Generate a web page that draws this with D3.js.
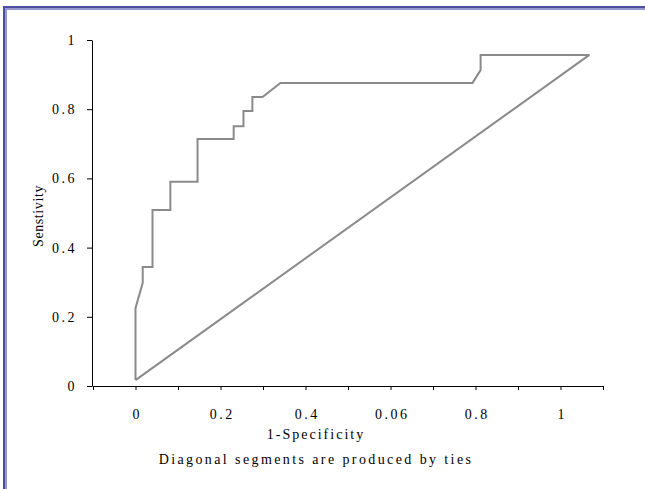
<!DOCTYPE html>
<html>
<head>
<meta charset="utf-8">
<script src="https://cdn.jsdelivr.net/npm/d3@7"></script>
<style>
  body { margin: 0; background: #fff; }
  svg text { font-family: "Liberation Serif", "Times New Roman", serif; fill: #000; }
</style>
</head>
<body>
<div id="chart"></div>
<script>
// ROC curve points (1-specificity, sensitivity)
const rocX = [0, 0, 0.017, 0.017, 0.04, 0.04, 0.082, 0.082, 0.146, 0.146, 0.231, 0.231, 0.254, 0.254, 0.275, 0.275, 0.299, 0.341, 0.793, 0.812, 0.812, 1.068];
const rocY = [0.017, 0.225, 0.298, 0.344, 0.344, 0.509, 0.509, 0.59, 0.59, 0.714, 0.714, 0.751, 0.751, 0.795, 0.795, 0.835, 0.835, 0.876, 0.876, 0.913, 0.957, 0.957];

// reference (chance) line
const chanceX = [0, 1.068];
const chanceY = [0.017, 0.957];

// axis ticks and their labels (the "0.06" is as printed on the original)
const xTickValues = d3.range(13).map(i => -0.1 + i * 0.1);
const xTickLabels = {0: "0", 2: "0.2", 4: "0.4", 6: "0.06", 8: "0.8", 10: "1"};
const yTickValues = [0, 0.2, 0.4, 0.6, 0.8, 1];
const yTickLabels = ["0", "0.2", "0.4", "0.6", "0.8", "1"];

const width = 645, height = 489;

const svg = d3.select("#chart").append("svg")
    .attr("width", width)
    .attr("height", height);

// frame: top and left borders only
svg.append("rect").attr("x", 3).attr("y", 6).attr("width", width - 3).attr("height", 2).attr("fill", "#4e4ea0");
svg.append("rect").attr("x", 3).attr("y", 8).attr("width", width - 3).attr("height", 2).attr("fill", "#9898d0");
svg.append("rect").attr("x", 3).attr("y", 6).attr("width", 2).attr("height", height - 6).attr("fill", "#4e4ea0");
svg.append("rect").attr("x", 5).attr("y", 8).attr("width", 2).attr("height", height - 8).attr("fill", "#9898d0");

const x = d3.scaleLinear().domain([-0.1, 1.1]).range([93, 603]);
const y = d3.scaleLinear().domain([0, 1]).range([386, 40]);

// x axis
const xAxis = svg.append("g")
    .attr("transform", `translate(0,${y(0)})`)
    .call(d3.axisBottom(x)
      .tickValues(xTickValues)
      .tickSize(4)
      .tickSizeOuter(0)
      .tickPadding(19)
      .tickFormat(d => xTickLabels[Math.round(d * 10)] || ""));

// y axis
const yAxis = svg.append("g")
    .attr("transform", `translate(${x(-0.1) - 1},0)`)
    .call(d3.axisLeft(y)
      .tickValues(yTickValues)
      .tickSize(5)
      .tickSizeOuter(0)
      .tickPadding(10)
      .tickFormat((d, i) => yTickLabels[i]));

[xAxis, yAxis].forEach(g => {
  g.select(".domain").attr("stroke", "#000").attr("stroke-width", 1);
  g.selectAll(".tick line").attr("stroke", "#000");
  g.selectAll(".tick text")
      .style("font-family", "'Liberation Serif', serif")
      .style("font-size", "14px")
      .style("letter-spacing", "2.5px")
      .attr("fill", "#000");
});
xAxis.selectAll(".tick text").attr("dx", "1.25px");

// axis titles
svg.append("text")
    .attr("x", 316)
    .attr("y", 439)
    .attr("text-anchor", "middle")
    .style("font-size", "14px")
    .style("letter-spacing", "2px")
    .text("1-Specificity");

svg.append("text")
    .attr("x", 316)
    .attr("y", 464)
    .attr("text-anchor", "middle")
    .style("font-size", "14px")
    .style("letter-spacing", "2.4px")
    .text("Diagonal segments are produced by ties");

svg.append("text")
    .attr("transform", "translate(43,216) rotate(-90)")
    .attr("text-anchor", "middle")
    .style("font-size", "14px")
    .style("letter-spacing", "0.6px")
    .text("Senstivity");

const line = d3.line()
    .x(d => x(d[0]))
    .y(d => y(d[1]));

svg.append("path")
    .datum(chanceX.map((v, i) => [v, chanceY[i]]))
    .attr("d", line)
    .attr("fill", "none")
    .attr("stroke", "#8a8a8a")
    .attr("stroke-width", 2);

svg.append("path")
    .datum(rocX.map((v, i) => [v, rocY[i]]))
    .attr("d", line)
    .attr("fill", "none")
    .attr("stroke", "#8a8a8a")
    .attr("stroke-width", 2)
    .attr("stroke-linejoin", "miter");
</script>
</body>
</html>
